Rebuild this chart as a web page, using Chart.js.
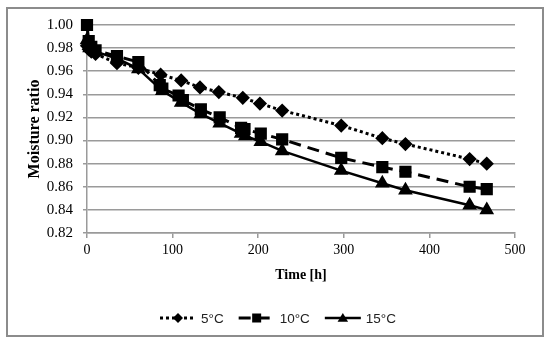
<!DOCTYPE html>
<html>
<head>
<meta charset="utf-8">
<script src="https://cdn.jsdelivr.net/npm/chart.js@4.4.0/dist/chart.umd.min.js"></script>
<style>
  html, body { margin: 0; padding: 0; background: #fff; }
  #wrap { width: 550px; height: 351px; }
</style>
</head>
<body>
<div id="wrap"><canvas id="chart" width="550" height="351"></canvas></div>
<script>
// series labels
const seriesNames = ['5°C', '10°C', '15°C'];

// drying time [h] for each series
const time5 = [0, 2, 5, 10, 35, 60, 86, 110, 132, 154, 182, 202, 228, 297, 345, 372, 447, 467];
const time10 = [0, 2, 5, 10, 35, 60, 85, 88, 107, 112, 133, 155, 180, 184, 203, 228, 297, 345, 372, 447, 467];
const time15 = [0, 3, 10, 35, 60, 88, 110, 133, 155, 180, 185, 203, 228, 297, 345, 372, 447, 467];

// moisture ratio for each series
const mr5 = [0.982, 0.979, 0.977, 0.975, 0.967, 0.963, 0.957, 0.952, 0.946, 0.942, 0.937, 0.932, 0.926, 0.913, 0.902, 0.897, 0.884, 0.880];
const mr10 = [1.000, 0.986, 0.981, 0.978, 0.973, 0.968, 0.948, 0.945, 0.939, 0.935, 0.927, 0.920, 0.911, 0.910, 0.906, 0.901, 0.885, 0.877, 0.873, 0.860, 0.858];
const mr15 = [0.987, 0.980, 0.977, 0.971, 0.962, 0.943, 0.933, 0.923, 0.915, 0.906, 0.904, 0.899, 0.891, 0.874, 0.863, 0.857, 0.844, 0.840];

// axis ticks
const xTicks = [0, 100, 200, 300, 400, 500];
const yTicks = [0.82, 0.84, 0.86, 0.88, 0.90, 0.92, 0.94, 0.96, 0.98, 1.00];

const toPoints = (xs, ys) => xs.map((x, i) => ({ x: x, y: ys[i] }));

const gridColor = '#9a9a9a';
const serif = "'Liberation Serif', 'Times New Roman', serif";

// white background + grey frame round the whole figure
const framePlugin = {
    id: 'frame',
    beforeDraw(chart) {
        const ctx = chart.ctx;
        ctx.save();
        ctx.fillStyle = '#fff';
        ctx.fillRect(0, 0, chart.width, chart.height);
        ctx.strokeStyle = '#8c8c8c';
        ctx.lineWidth = 2;
        ctx.strokeRect(7, 8, 536, 328);
        ctx.restore();
    }
};

function drawMarker(ctx, style, x, y, r) {
    ctx.beginPath();
    if (style === 'rectRot') {
        ctx.moveTo(x, y - r); ctx.lineTo(x + r, y); ctx.lineTo(x, y + r); ctx.lineTo(x - r, y);
    } else if (style === 'rect') {
        ctx.rect(x - r, y - r, 2 * r, 2 * r);
    } else {
        ctx.moveTo(x, y - r); ctx.lineTo(x + r * 1.05, y + r * 0.75); ctx.lineTo(x - r * 1.05, y + r * 0.75);
    }
    ctx.closePath();
    ctx.fill();
}

// legend drawn by hand so the line style shows with the marker
const legendPlugin = {
    id: 'lineLegend',
    afterDraw(chart) {
        const ctx = chart.ctx;
        const y = 318;
        const lineLen = 36, gap = 5, itemGap = 15;
        ctx.save();
        ctx.font = "13.5px 'Liberation Sans', Arial, sans-serif";
        ctx.textBaseline = 'middle';
        const sets = chart.data.datasets;
        const widths = sets.map(ds => lineLen + gap + ctx.measureText(ds.label).width);
        const total = widths.reduce((a, b) => a + b, 0) + itemGap * (sets.length - 1);
        let x = 278 - total / 2;
        sets.forEach((ds, i) => {
            ctx.strokeStyle = '#000';
            ctx.fillStyle = '#000';
            ctx.lineWidth = ds.borderWidth;
            ctx.setLineDash(ds.borderDash || []);
            ctx.beginPath();
            ctx.moveTo(x, y);
            ctx.lineTo(x + lineLen, y);
            ctx.stroke();
            ctx.setLineDash([]);
            drawMarker(ctx, ds.pointStyle, x + lineLen / 2, y, ds.pointStyle === 'rect' ? 4.5 : 5);
            ctx.fillStyle = '#222';
            ctx.fillText(ds.label, x + lineLen + gap, y + 1);
            x += widths[i] + itemGap;
        });
        ctx.restore();
    }
};

new Chart(document.getElementById('chart').getContext('2d'), {
    type: 'line',
    data: {
        datasets: [
            {
                label: seriesNames[0],
                data: toPoints(time5, mr5),
                borderColor: '#000',
                backgroundColor: '#000',
                borderWidth: 3,
                borderDash: [3, 3],
                pointStyle: 'rectRot',
                pointRadius: 5,
                tension: 0,
                clip: false
            },
            {
                label: seriesNames[1],
                data: toPoints(time10, mr10),
                borderColor: '#000',
                backgroundColor: '#000',
                borderWidth: 3,
                borderDash: [12, 7],
                pointStyle: 'rect',
                pointRadius: 6.5,
                tension: 0,
                clip: false
            },
            {
                label: seriesNames[2],
                data: toPoints(time15, mr15),
                borderColor: '#000',
                backgroundColor: '#000',
                borderWidth: 2.5,
                pointStyle: 'triangle',
                pointRadius: 6,
                tension: 0,
                clip: false
            }
        ]
    },
    options: {
        responsive: false,
        animation: false,
        layout: { padding: { left: 8, top: 25, right: 35, bottom: 0 } },
        plugins: {
            legend: { display: false },
            tooltip: { enabled: false }
        },
        scales: {
            x: {
                type: 'linear',
                min: 0,
                max: 500,
                afterBuildTicks: scale => { scale.ticks = xTicks.map(v => ({ value: v })); },
                afterFit: scale => { scale.height = 118; },
                grid: { drawOnChartArea: false, drawTicks: true, tickLength: 5, color: gridColor, lineWidth: 1.5 },
                border: { color: gridColor, width: 1.5 },
                ticks: { color: '#000', padding: 4, maxRotation: 0, font: { family: serif, size: 14 } },
                title: {
                    display: true,
                    text: 'Time [h]',
                    color: '#000',
                    font: { family: serif, size: 14, weight: 'bold' },
                    padding: { top: 0, bottom: 67 }
                }
            },
            y: {
                min: 0.82,
                max: 1.00,
                afterBuildTicks: scale => { scale.ticks = yTicks.map(v => ({ value: v })); },
                afterFit: scale => { scale.width = 79; },
                grid: { color: gridColor, lineWidth: 1.5, tickLength: 4 },
                border: { color: gridColor, width: 1.5 },
                ticks: {
                    color: '#000',
                    padding: 10,
                    font: { family: serif, size: 15 },
                    callback: v => Number(v).toFixed(2)
                },
                title: {
                    display: true,
                    text: 'Moisture ratio',
                    color: '#000',
                    font: { family: serif, size: 16, weight: 'bold' },
                    padding: { top: 17, bottom: 0 }
                }
            }
        }
    },
    plugins: [framePlugin, legendPlugin]
});
</script>
</body>
</html>
